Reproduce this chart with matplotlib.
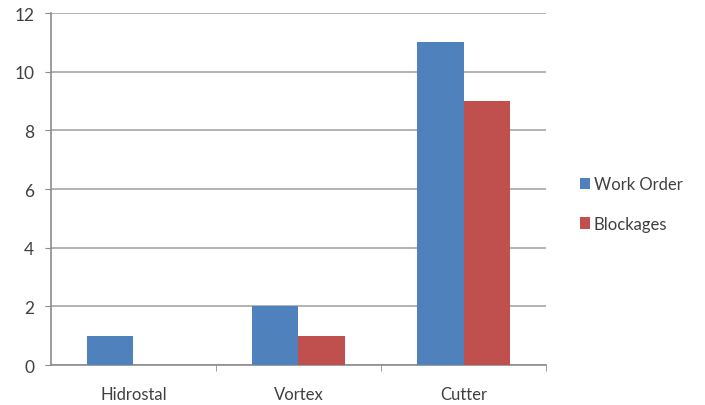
import numpy as np
import matplotlib.pyplot as plt

categories = ['Hidrostal', 'Vortex', 'Cutter']
work_order = [1, 2, 11]
blockages = [0, 1, 9]

plt.rcParams['font.family'] = ['Lato', 'DejaVu Sans']

fig = plt.figure(figsize=(7.05, 4.06), dpi=100)
ax = fig.add_axes([0.0723, 0.0985, 0.7022, 0.867])

x = np.arange(len(categories))
w = 0.283
ax.bar(x - w / 2, work_order, w, color='#4F81BD', label='Work Order', zorder=3)
ax.bar(x + w / 2, blockages, w, color='#C0504D', label='Blockages', zorder=3)

ax.set_xlim(-0.5, 2.5)
ax.set_ylim(0, 12)
ax.set_yticks(range(0, 13, 2))
ax.yaxis.grid(True, color='#A6A6A6', linewidth=1.2, zorder=0)

# category labels centred, tick marks at the group boundaries
ax.set_xticks(x)
ax.set_xticklabels(categories)
ax.set_xticks([0.5, 1.5, 2.5], minor=True)
ax.tick_params(axis='x', which='major', length=0, pad=15, labelsize=12, labelcolor='#404040')
ax.tick_params(axis='x', which='minor', length=4, color='#8C8C8C', direction='out')
ax.tick_params(axis='y', length=4, color='#8C8C8C', labelsize=12.5, labelcolor='#404040', pad=8)

for side in ['top', 'right']:
    ax.spines[side].set_visible(False)
for side in ['left', 'bottom']:
    ax.spines[side].set_color('#8C8C8C')
    ax.spines[side].set_linewidth(1.2)

fig.legend(loc='center left', bbox_to_anchor=(0.801, 0.495), frameon=False,
           fontsize=12, handlelength=0.6, handleheight=0.7, handletextpad=0.25,
           labelspacing=1.4, labelcolor='#404040')

fig.savefig('out.png', dpi=100)
